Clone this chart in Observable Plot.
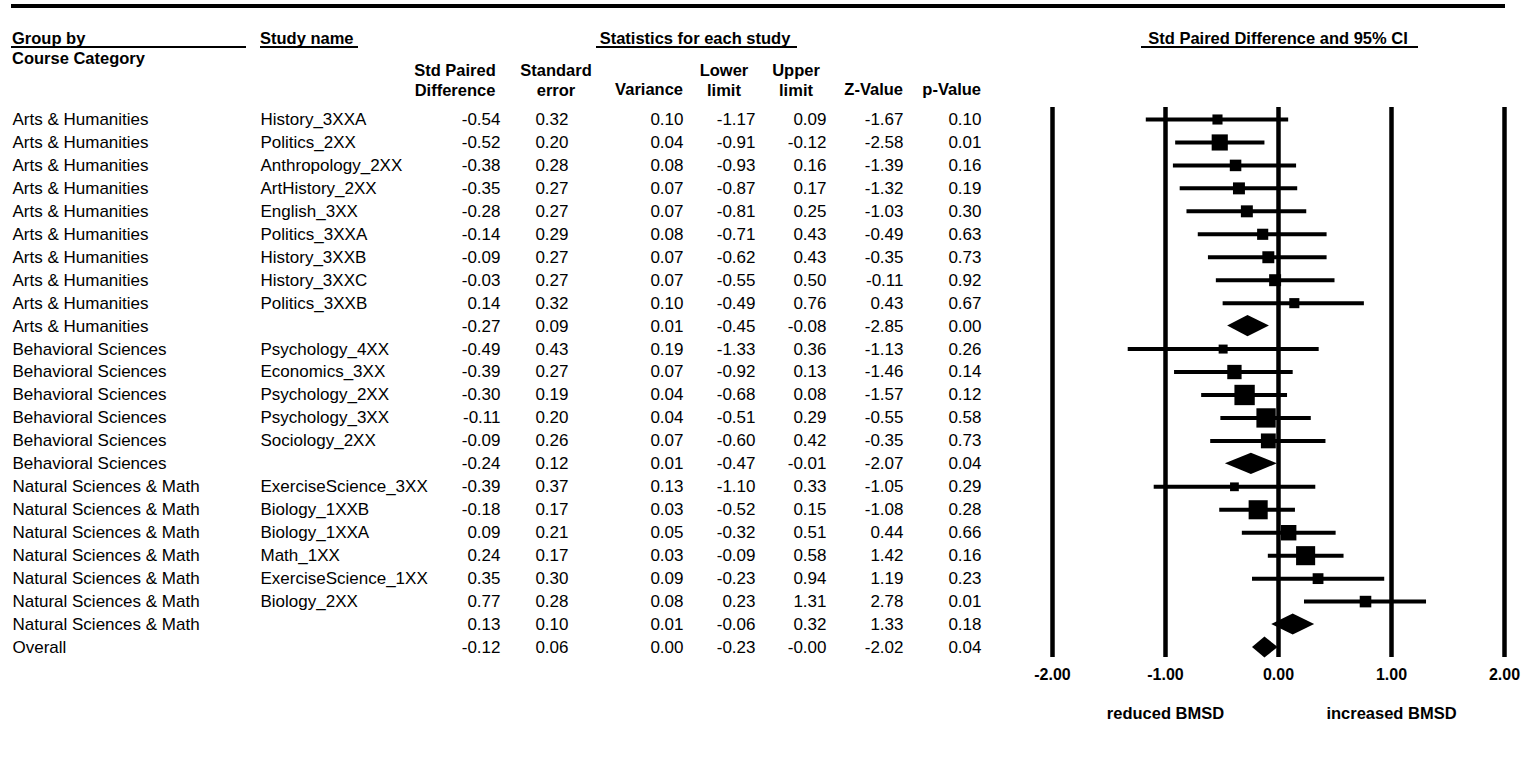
<!DOCTYPE html>
<html>
<head>
<meta charset="utf-8">
<script src="https://cdn.jsdelivr.net/npm/d3@7"></script>
<script src="https://cdn.jsdelivr.net/npm/@observablehq/plot@0.6"></script>
<style>
  html, body { margin: 0; padding: 0; background: #fff; }
  #chart { position: relative; width: 1528px; height: 764px; font-family: "Liberation Sans", Arial, sans-serif; color: #000; overflow: hidden; }
  .hdr { position: absolute; font-weight: bold; font-size: 16.5px; line-height: 19.5px; white-space: pre; }
  .rule { position: absolute; background: #000; }
  #plots { position: absolute; left: 0; top: 0; display: flex; }
</style>
</head>
<body>
<div id="chart"><div id="plots"></div></div>
<script>
// ---------------- DATA ----------------
const groups = [
  "Arts & Humanities","Arts & Humanities","Arts & Humanities","Arts & Humanities","Arts & Humanities",
  "Arts & Humanities","Arts & Humanities","Arts & Humanities","Arts & Humanities","Arts & Humanities",
  "Behavioral Sciences","Behavioral Sciences","Behavioral Sciences","Behavioral Sciences","Behavioral Sciences","Behavioral Sciences",
  "Natural Sciences & Math","Natural Sciences & Math","Natural Sciences & Math","Natural Sciences & Math",
  "Natural Sciences & Math","Natural Sciences & Math","Natural Sciences & Math",
  "Overall"
];
const studies = [
  "History_3XXA","Politics_2XX","Anthropology_2XX","ArtHistory_2XX","English_3XX",
  "Politics_3XXA","History_3XXB","History_3XXC","Politics_3XXB","",
  "Psychology_4XX","Economics_3XX","Psychology_2XX","Psychology_3XX","Sociology_2XX","",
  "ExerciseScience_3XX","Biology_1XXB","Biology_1XXA","Math_1XX","ExerciseScience_1XX","Biology_2XX","",
  ""
];
const stdDiff  = [-0.54,-0.52,-0.38,-0.35,-0.28,-0.14,-0.09,-0.03,0.14,-0.27, -0.49,-0.39,-0.30,-0.11,-0.09,-0.24, -0.39,-0.18,0.09,0.24,0.35,0.77,0.13, -0.12];
const stdErr   = [0.32,0.20,0.28,0.27,0.27,0.29,0.27,0.27,0.32,0.09, 0.43,0.27,0.19,0.20,0.26,0.12, 0.37,0.17,0.21,0.17,0.30,0.28,0.10, 0.06];
const variance = [0.10,0.04,0.08,0.07,0.07,0.08,0.07,0.07,0.10,0.01, 0.19,0.07,0.04,0.04,0.07,0.01, 0.13,0.03,0.05,0.03,0.09,0.08,0.01, 0.00];
const lowerLim = [-1.17,-0.91,-0.93,-0.87,-0.81,-0.71,-0.62,-0.55,-0.49,-0.45, -1.33,-0.92,-0.68,-0.51,-0.60,-0.47, -1.10,-0.52,-0.32,-0.09,-0.23,0.23,-0.06, -0.23];
const upperLim = [0.09,-0.12,0.16,0.17,0.25,0.43,0.43,0.50,0.76,-0.08, 0.36,0.13,0.08,0.29,0.42,-0.01, 0.33,0.15,0.51,0.58,0.94,1.31,0.32, -0.003];
const zValue   = [-1.67,-2.58,-1.39,-1.32,-1.03,-0.49,-0.35,-0.11,0.43,-2.85, -1.13,-1.46,-1.57,-0.55,-0.35,-2.07, -1.05,-1.08,0.44,1.42,1.19,2.78,1.33, -2.02];
const pValue   = [0.10,0.01,0.16,0.19,0.30,0.63,0.73,0.92,0.67,0.00, 0.26,0.14,0.12,0.58,0.73,0.04, 0.29,0.28,0.66,0.16,0.23,0.01,0.18, 0.04];
const xTicks = [-2, -1, 0, 1, 2];
const directionLabels = [{x: -1, label: "reduced BMSD"}, {x: 1, label: "increased BMSD"}];

// ---------------- TABLE BUILD ----------------
const rows = groups.map((g, i) => ({
  row: i + 1, group: g, study: studies[i], est: stdDiff[i], se: stdErr[i], variance: variance[i],
  lower: lowerLim[i], upper: upperLim[i], z: zValue[i], p: pValue[i], summary: studies[i] === ""
}));
const studyRows = rows.filter(d => !d.summary);
// relative (inverse-variance) weight of each study within its group, in %
const groupInv = d3.rollup(studyRows, v => d3.sum(v, d => 1 / (d.se * d.se)), d => d.group);
studyRows.forEach(d => d.weight = 100 * (1 / (d.se * d.se)) / groupInv.get(d.group));
const summaryRows = rows.filter(d => d.summary);
const diamondHalf = 0.46;
const diamondPts = summaryRows.flatMap(d => [
  {row: d.row, y: d.row - diamondHalf, x1: d.est, x2: d.est},
  {row: d.row, y: d.row, x1: d.lower, x2: d.upper},
  {row: d.row, y: d.row + diamondHalf, x1: d.est, x2: d.est}
]);

const fmt = v => v.toFixed(2);

// ---------------- LAYOUT ----------------
const FONT = '"Liberation Sans", Arial, sans-serif';
const yScale = {domain: [1, 24], range: [119, 647], axis: null};
const tableColumns = [
  {value: d => d.group, at: 12, anchor: "start"},
  {value: d => d.study, at: 260, anchor: "start"},
  {value: d => fmt(d.est), at: 500, anchor: "end"},
  {value: d => fmt(d.se), at: 568, anchor: "end"},
  {value: d => fmt(d.variance), at: 683, anchor: "end"},
  {value: d => fmt(d.lower), at: 755, anchor: "end"},
  {value: d => fmt(d.upper), at: 826, anchor: "end"},
  {value: d => fmt(d.z), at: 903, anchor: "end"},
  {value: d => fmt(d.p), at: 981, anchor: "end"}
];

const table = Plot.plot({
  width: 1030, height: 764, margin: 0,
  style: {fontFamily: FONT, fontSize: "17px", color: "#000", background: "transparent"},
  y: yScale,
  marks: tableColumns.map(c => Plot.text(rows, {
    y: "row", text: c.value, frameAnchor: "left", dx: c.at, textAnchor: c.anchor, fill: "#000"
  }))
});

const forest = Plot.plot({
  width: 498, height: 764,
  marginLeft: 22, marginRight: 24, marginTop: 107, marginBottom: 107,
  style: {fontFamily: FONT, fontSize: "17px", color: "#000", background: "transparent", overflow: "visible"},
  x: {domain: [-2, 2], axis: null},
  y: yScale,
  r: {type: "sqrt", domain: [0, 100], range: [0, 20.3]},
  marks: [
    Plot.ruleX(xTicks, {x: d => d, stroke: "#000", strokeWidth: 4.5}),
    Plot.ruleY(studyRows, {y: "row", x1: "lower", x2: "upper", stroke: "#000", strokeWidth: 4}),
    Plot.dot(studyRows, {x: "est", y: "row", r: "weight", symbol: "square", fill: "#000", stroke: null}),
    Plot.areaX(diamondPts, {y: "y", x1: "x1", x2: "x2", z: "row", fill: "#000", curve: "linear"}),
    Plot.text(xTicks, {x: d => d, text: d => fmt(d), frameAnchor: "bottom", dy: 22, fontWeight: "bold", fontSize: 16, fill: "#000"}),
    Plot.text(directionLabels, {x: "x", text: "label", frameAnchor: "bottom", dy: 61, fontWeight: "bold", fontSize: 16.5, fill: "#000"})
  ]
});

const plots = document.getElementById("plots");
plots.appendChild(table);
plots.appendChild(forest);

// ---------------- HEADERS (HTML) ----------------
const chart = document.getElementById("chart");
function rule(x, y, w, h) {
  const el = document.createElement("div");
  el.className = "rule";
  Object.assign(el.style, {left: x + "px", top: y + "px", width: w + "px", height: h + "px"});
  chart.appendChild(el);
}
function hdr(text, x, cy, align) {
  const el = document.createElement("div");
  el.className = "hdr";
  el.textContent = text;
  el.style.top = cy + "px";
  el.style.textAlign = align === "start" ? "left" : align === "end" ? "right" : "center";
  el.style.left = x + "px";
  const tx = align === "start" ? "0" : align === "end" ? "-100%" : "-50%";
  el.style.transform = `translate(${tx}, -50%)`;
  chart.appendChild(el);
}
rule(11, 4, 1494, 4);
hdr("Group by", 12, 38.5, "start");
rule(11, 46, 235, 2);
hdr("Course Category", 12, 58.5, "start");
hdr("Study name", 260, 38.5, "start");
rule(260, 46, 98, 2);
hdr("Statistics for each study", 695, 38.5, "center");
rule(596, 46, 201, 2);
hdr("Std Paired Difference and 95% CI", 1278, 38.5, "center");
rule(1141, 46, 277, 2);
hdr("Std Paired\nDifference", 455, 80, "center");
hdr("Standard\nerror", 556, 80, "center");
hdr("Variance", 683, 89.5, "end");
hdr("Lower\nlimit", 724, 80, "center");
hdr("Upper\nlimit", 796, 80, "center");
hdr("Z-Value", 903, 89.5, "end");
hdr("p-Value", 981, 89.5, "end");
</script>
</body>
</html>
